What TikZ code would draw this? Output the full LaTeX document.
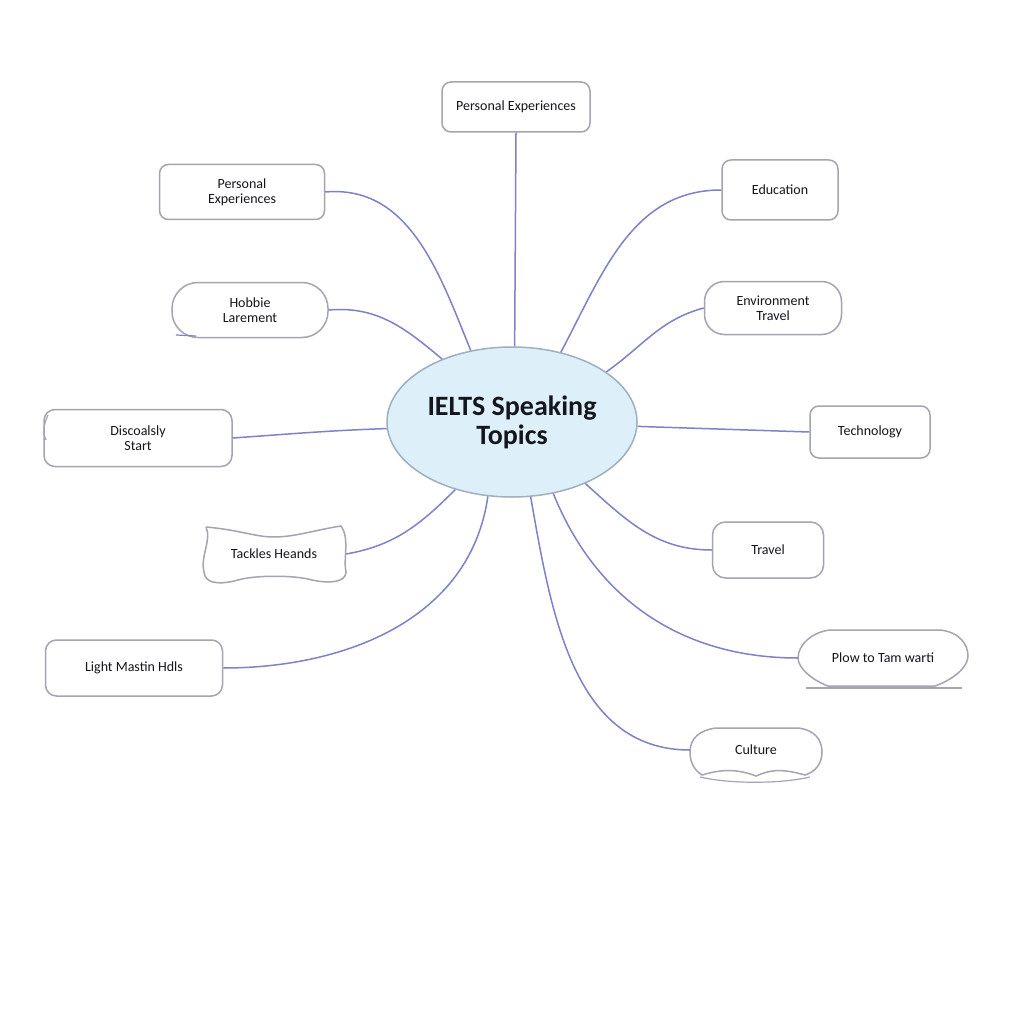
\documentclass[tikz,border=0pt]{standalone}
\usepackage{fontspec}
\setmainfont{Carlito}
\usetikzlibrary{shapes.geometric,shapes.misc}
\definecolor{linkc}{HTML}{7E82C6}
\definecolor{boxc}{HTML}{A4A4B4}
\definecolor{centfill}{HTML}{DDF0FA}
\definecolor{centdraw}{HTML}{A0AEBE}
\definecolor{txtc}{HTML}{15151C}
\tikzset{
  topic/.style={draw=boxc, line width=1.5pt, rounded corners=9pt, fill=white, inner sep=0pt,
    align=center, font=\fontsize{14}{15}\selectfont, text=txtc},
  ghost/.style={draw=none, inner sep=0pt, align=center, font=\fontsize{14}{15}\selectfont, text=txtc},
  outline/.style={draw=boxc, line width=1.5pt},
  link/.style={draw=linkc, line width=1.5pt},
}
\begin{document}
\begin{tikzpicture}[x=1pt,y=1pt]
\useasboundingbox (0,0) rectangle (1024,-1024);
\fill[white] (0,0) rectangle (1024,-1024);

% centre
\node[ellipse, draw=centdraw, line width=1.5pt, fill=centfill, minimum width=250pt, minimum height=150pt,
  inner sep=0pt, align=center, text=txtc, font=\fontsize{28}{29}\selectfont\bfseries] (c) at (512,-422) {IELTS Speaking\\Topics};

% left / top
\node[topic, minimum width=148pt, minimum height=50pt] (pe1) at (516,-107) {Personal Experiences};
\node[topic, minimum width=165pt, minimum height=55pt] (pe2) at (242,-192) {Personal\\Experiences};
\node[topic, rounded corners=26pt, minimum width=156pt, minimum height=55pt] (hob) at (250,-310) {Hobbie\\Larement};
\node[topic, rounded corners=11pt, minimum width=188pt, minimum height=57pt] (dis) at (138,-438) {Discoalsly\\Start};
\node[ghost, minimum width=144pt, minimum height=60pt] (tac) at (274,-554) {Tackles Heands};
\node[topic, rounded corners=11pt, minimum width=177pt, minimum height=56pt] (lig) at (134,-668) {Light Mastin Hdls};

% right
\node[topic, minimum width=116pt, minimum height=60pt] (edu) at (780,-190) {Education};
\node[topic, rounded corners=20pt, minimum width=137pt, minimum height=53pt] (env) at (773,-308) {Environment\\Travel};
\node[topic, minimum width=120pt, minimum height=52pt] (tech) at (870,-432) {Technology};
\node[topic, rounded corners=13pt, minimum width=111pt, minimum height=56pt] (tra) at (768,-550) {Travel};
\node[ghost, minimum width=170pt, minimum height=58pt] (plow) at (883,-658) {Plow to Tam warti};
\node[ghost, minimum width=132pt, minimum height=50pt] (cul) at (756,-750) {Culture};

% bone shape around Tackles Heands
\draw[outline] (206,-527) .. controls (240,-530) and (255,-537) .. (274,-537)
  .. controls (295,-537) and (315,-530) .. (341,-526)
  .. controls (350,-538) and (343,-560) .. (346,-572)
  .. controls (346,-582) and (330,-584) .. (312,-580)
  .. controls (295,-575) and (255,-575) .. (238,-580)
  .. controls (220,-585) and (205,-584) .. (204,-572)
  .. controls (200,-556) and (212,-540) .. (206,-527);
% Plow shape
\draw[outline] (830,-630) -- (940,-630) .. controls (960,-632) and (968,-645) .. (968,-656)
  .. controls (968,-668) and (952,-680) .. (935,-686) -- (828,-686)
  .. controls (812,-680) and (798,-668) .. (798,-658)
  .. controls (798,-645) and (812,-632) .. (830,-630);
\draw[boxc, line width=1.2pt] (806,-688) -- (962,-688);
% Culture shape
\draw[outline] (716,-728) -- (798,-728) .. controls (815,-730) and (822,-740) .. (822,-752)
  .. controls (822,-764) and (815,-772) .. (805,-775)
  .. controls (780,-768) and (770,-770) .. (756,-776)
  .. controls (740,-770) and (725,-768) .. (702,-775)
  .. controls (694,-770) and (690,-762) .. (690,-752)
  .. controls (690,-738) and (700,-730) .. (716,-728);
\draw[boxc, line width=1.2pt] (700,-777) .. controls (730,-784) and (780,-784) .. (810,-777);
% small strokes
\draw[linkc, line width=1.2pt] (176,-335) -- (196,-336);
\draw[boxc, line width=1.2pt] (48,-415) .. controls (44,-424) and (42,-432) .. (46,-440);

% connectors
\draw[link] (pe1.south) -- (c.88);
\draw[link] (pe2.east) to[out=5,in=112] (c.120);
\draw[link] (hob.east) to[out=5,in=140] (c.138);
\draw[link] (dis.east) to[out=4,in=182] (c.183);
\draw[link] (tac.east) to[out=10,in=225] (c.230);
\draw[link] (lig.east) to[out=0,in=262] (c.252);
\draw[link] (edu.west) to[out=180,in=62] (c.55);
\draw[link] (env.west) to[out=195,in=35] (c.28);
\draw[link] (tech.west) -- (c.358);
\draw[link] (tra.west) to[out=180,in=-42] (c.320);
\draw[link] (plow.west) to[out=180,in=-68] (c.300);
\draw[link] (cul.west) to[out=180,in=-80] (c.284);
\end{tikzpicture}
\end{document}
